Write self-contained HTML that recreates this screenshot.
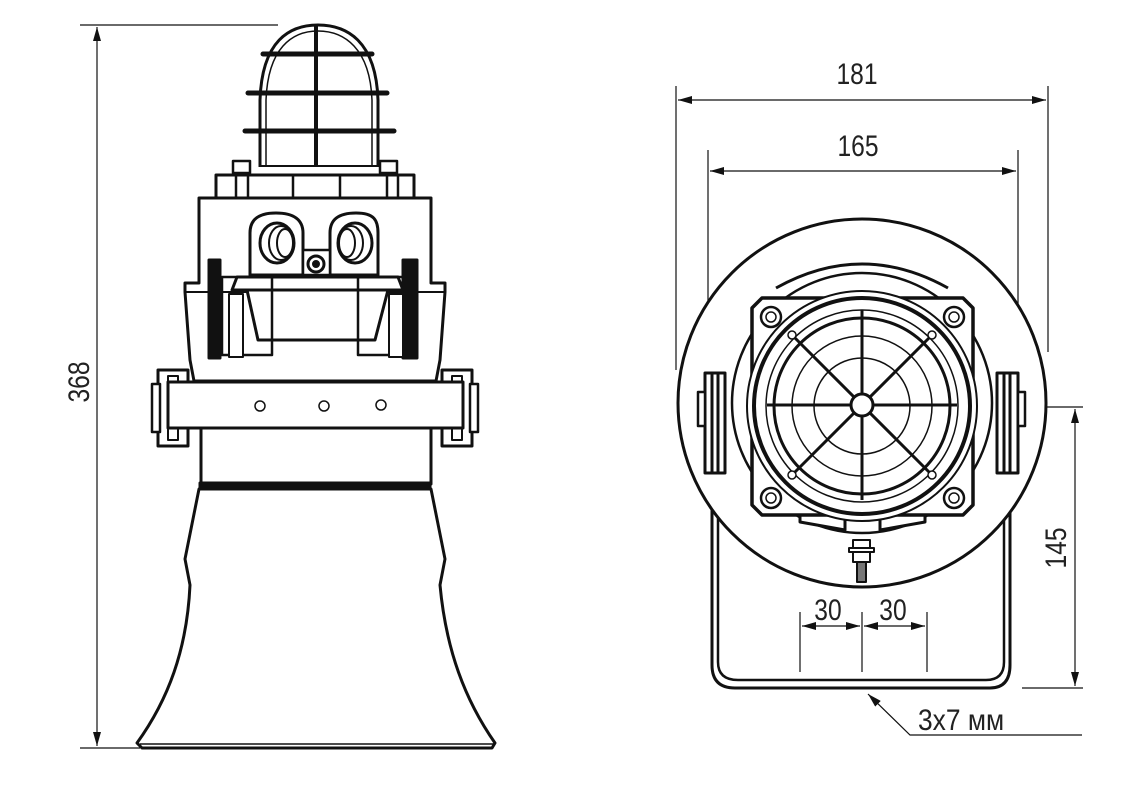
<!DOCTYPE html>
<html><head><meta charset="utf-8"><style>
html,body{margin:0;padding:0;background:#fff}
svg{display:block}
text{font-family:"Liberation Sans",sans-serif;fill:#222}
</style></head><body>
<svg width="1138" height="808" viewBox="0 0 1138 808" xmlns="http://www.w3.org/2000/svg">
<defs>
<marker id="a" viewBox="0 0 14 8" refX="14" refY="4" markerWidth="14" markerHeight="8" markerUnits="userSpaceOnUse" orient="auto-start-reverse"><path d="M0,0 L14,4 L0,8 Z" fill="#111"/></marker>
</defs>
<g stroke="#111" stroke-width="1.2" fill="none">
<line x1="80" y1="25" x2="278" y2="25"/>
<line x1="80" y1="748" x2="140" y2="748"/>
<line x1="97" y1="27" x2="97" y2="746" marker-start="url(#a)" marker-end="url(#a)"/>
<line x1="676" y1="86" x2="676" y2="370"/>
<line x1="1048" y1="86" x2="1048" y2="352"/>
<line x1="678" y1="100" x2="1046" y2="100" marker-start="url(#a)" marker-end="url(#a)"/>
<line x1="708" y1="150" x2="708" y2="370"/>
<line x1="1018" y1="150" x2="1018" y2="365"/>
<line x1="710" y1="171" x2="1016" y2="171" marker-start="url(#a)" marker-end="url(#a)"/>
<line x1="1030" y1="407" x2="1083" y2="407"/>
<line x1="1022" y1="688" x2="1083" y2="688"/>
<line x1="1075" y1="409" x2="1075" y2="686" marker-start="url(#a)" marker-end="url(#a)"/>
<line x1="800" y1="612" x2="800" y2="672"/>
<line x1="862" y1="612" x2="862" y2="672"/>
<line x1="927" y1="612" x2="927" y2="672"/>
<line x1="802" y1="626" x2="860" y2="626" marker-start="url(#a)" marker-end="url(#a)"/>
<line x1="864" y1="626" x2="925" y2="626" marker-start="url(#a)" marker-end="url(#a)"/>
<polyline points="1082,735 910,735 868,694" marker-end="url(#a)"/>
</g>
<g font-size="30">
<text x="857" y="84" text-anchor="middle" transform="translate(857 0) scale(0.82 1) translate(-857 0)">181</text>
<text x="858" y="156" text-anchor="middle" transform="translate(858 0) scale(0.82 1) translate(-858 0)">165</text>
<text x="828" y="620" text-anchor="middle" transform="translate(828 0) scale(0.82 1) translate(-828 0)">30</text>
<text x="893" y="620" text-anchor="middle" transform="translate(893 0) scale(0.82 1) translate(-893 0)">30</text>
<text x="918" y="730" transform="translate(918 0) scale(0.88 1) translate(-918 0)">3x7 мм</text>
<text transform="translate(89 382) rotate(-90) scale(0.82 1)" text-anchor="middle">368</text>
<text transform="translate(1066 548) rotate(-90) scale(0.82 1)" text-anchor="middle">145</text>
</g>

<g stroke="#111" stroke-width="3" fill="#fff" stroke-linejoin="round">
<path d="M260,167 L260,100 C262,40 290,25 318,25 C346,25 376,40 378,100 L378,167" />
<path d="M266,167 L266,100 C268,48 292,31 318,31 C344,31 370,48 372,100 L372,167" stroke-width="1.5"/>
<line x1="316" y1="25" x2="316" y2="167" stroke-width="4"/>
<line x1="263" y1="54" x2="372" y2="54" stroke-width="5" stroke-linecap="round"/>
<line x1="248" y1="93" x2="387" y2="93" stroke-width="5" stroke-linecap="round"/>
<line x1="245" y1="131" x2="394" y2="131" stroke-width="5" stroke-linecap="round"/>
<line x1="260" y1="166" x2="378" y2="166" stroke-width="2"/>
<rect x="233" y="161" width="17" height="12" stroke-width="2.5"/>
<rect x="380" y="161" width="17" height="12" stroke-width="2.5"/>
<rect x="216" y="175" width="198" height="23"/>
<g stroke-width="2.5"><line x1="236" y1="175" x2="236" y2="198"/><line x1="248" y1="175" x2="248" y2="198"/><line x1="293" y1="175" x2="293" y2="198"/><line x1="340" y1="175" x2="340" y2="198"/><line x1="387" y1="175" x2="387" y2="198"/><line x1="398" y1="175" x2="398" y2="198"/></g>
<path d="M199,198 L431,198 L431,283 L445,283 L445,292 L440,360 L436,381 L194,381 L190,360 L185,292 L185,283 L199,283 Z"/>
<line x1="185" y1="292" x2="445" y2="292" stroke-width="2"/>
<path d="M250,275 L250,233 C250,220 258,213 276,213 C294,213 303,220 303,233 L303,275 Z"/>
<path d="M330,275 L330,233 C330,220 338,213 356,213 C374,213 378,220 378,233 L378,275 Z"/>
<ellipse cx="277" cy="243" rx="17" ry="20"/>
<ellipse cx="281" cy="243" rx="12" ry="17" stroke-width="2"/>
<ellipse cx="285" cy="243" rx="8" ry="14" stroke-width="2"/>
<ellipse cx="355" cy="243" rx="17" ry="20"/>
<ellipse cx="351" cy="243" rx="12" ry="17" stroke-width="2"/>
<ellipse cx="347" cy="243" rx="8" ry="14" stroke-width="2"/>
<rect x="303" y="250" width="27" height="25" stroke-width="2.5"/>
<circle cx="316" cy="264" r="8"/>
<circle cx="316" cy="264" r="2.5" fill="#111"/>
<path d="M237,277 L398,277 L403,290 L232,290 Z"/>
<path d="M247,290 L388,290 L375,340 L258,340 Z"/>
<rect x="222" y="277" width="50" height="78" stroke-width="2.5" fill="none"/>
<rect x="358" y="277" width="50" height="78" stroke-width="2.5" fill="none"/>
<rect x="209" y="260" width="11" height="98" fill="#111"/>
<rect x="403" y="260" width="14" height="98" fill="#111"/>
<rect x="229" y="294" width="14" height="63" stroke-width="2"/>
<rect x="389" y="294" width="14" height="63" stroke-width="2"/>
<rect x="158" y="370" width="30" height="76"/>
<rect x="152" y="384" width="8" height="48" stroke-width="2.5"/>
<rect x="168" y="376" width="10" height="64" stroke-width="2"/>
<rect x="442" y="370" width="30" height="76"/>
<rect x="470" y="384" width="8" height="48" stroke-width="2.5"/>
<rect x="452" y="376" width="10" height="64" stroke-width="2"/>
<rect x="168" y="382" width="295" height="46"/>
<circle cx="260" cy="406" r="5" stroke-width="1.5"/>
<circle cx="324" cy="406" r="5" stroke-width="1.5"/>
<circle cx="381" cy="405" r="5" stroke-width="1.5"/>
<rect x="201" y="428" width="230" height="56"/>
<rect x="200" y="483" width="230" height="5" fill="#111"/>
<path d="M199,489 L431,489 L445,559 L440,585 C446,650 465,700 495,743 L492,748 L142,748 L137,743 C168,700 187,650 190,585 L185,559 Z"/>
<line x1="140" y1="744" x2="494" y2="744" stroke-width="1.5"/>
</g>

<g stroke="#111" stroke-width="3" fill="none" stroke-linejoin="round">
<path d="M712,470 L712,665 Q712,688 735,688 L990,688 Q1010,688 1010,665 L1010,470" stroke-width="3"/>
<path d="M718,470 L718,662 Q718,680 738,680 L986,680 Q1004,680 1004,662 L1004,470" stroke-width="2.5"/>
<circle cx="862" cy="403" r="184" fill="#fff"/>
<path d="M776,288 Q862,240 948,288" stroke-width="3"/>
<circle cx="862" cy="403" r="130" stroke-width="2.5"/>
<path d="M800,505 L800,522 L845,530 L845,515" fill="#fff"/>
<path d="M880,515 L880,530 L925,522 L925,505" fill="#fff"/>
<path d="M762,298 L963,298 L973,308 L973,505 L963,515 L762,515 L752,505 L752,308 Z" fill="#fff" stroke-width="3.5"/>
<circle cx="862" cy="406" r="115" fill="#fff" stroke-width="2"/>
<circle cx="862" cy="406" r="108" stroke-width="4"/>
<circle cx="862" cy="406" r="96" stroke-width="1.5"/>
<circle cx="862" cy="406" r="88" stroke-width="3"/>
<circle cx="862" cy="406" r="70" stroke-width="1.5"/>
<circle cx="862" cy="406" r="48" stroke-width="1.5"/>
<g stroke-width="3">
<line x1="767" y1="405" x2="957" y2="405"/>
<line x1="862" y1="310" x2="862" y2="500"/>
<line x1="792" y1="335" x2="932" y2="475"/>
<line x1="932" y1="335" x2="792" y2="475"/>
</g>
<g stroke-width="1.5" fill="#fff">
<circle cx="792" cy="335" r="4"/><circle cx="932" cy="335" r="4"/><circle cx="792" cy="475" r="4"/><circle cx="932" cy="475" r="4"/>
</g>
<circle cx="862" cy="405" r="11" fill="#fff" stroke-width="3"/>
<g fill="#fff">
<circle cx="771" cy="317" r="10" stroke-width="2.5"/><circle cx="954" cy="317" r="10" stroke-width="2.5"/>
<circle cx="771" cy="498" r="10" stroke-width="2.5"/><circle cx="954" cy="498" r="10" stroke-width="2.5"/>
<circle cx="771" cy="317" r="5" stroke-width="1.5"/><circle cx="954" cy="317" r="5" stroke-width="1.5"/>
<circle cx="771" cy="498" r="5" stroke-width="1.5"/><circle cx="954" cy="498" r="5" stroke-width="1.5"/>
</g>
<rect x="705" y="373" width="20" height="100" fill="#fff"/>
<rect x="712" y="373" width="6" height="100"/>
<rect x="698" y="392" width="7" height="34" stroke-width="2.5" fill="#fff"/>
<rect x="997" y="373" width="21" height="100" fill="#fff"/>
<rect x="1004" y="373" width="6" height="100"/>
<rect x="1018" y="392" width="7" height="34" stroke-width="2.5" fill="#fff"/>
<rect x="853" y="540" width="17" height="8" stroke-width="2" fill="#fff"/>
<rect x="849" y="548" width="25" height="4" stroke-width="2" fill="#fff"/>
<rect x="853" y="552" width="17" height="10" stroke-width="2" fill="#fff"/>
<rect x="857" y="562" width="9" height="20" stroke-width="2" fill="#777"/>
</g>
</svg>
</body></html>
